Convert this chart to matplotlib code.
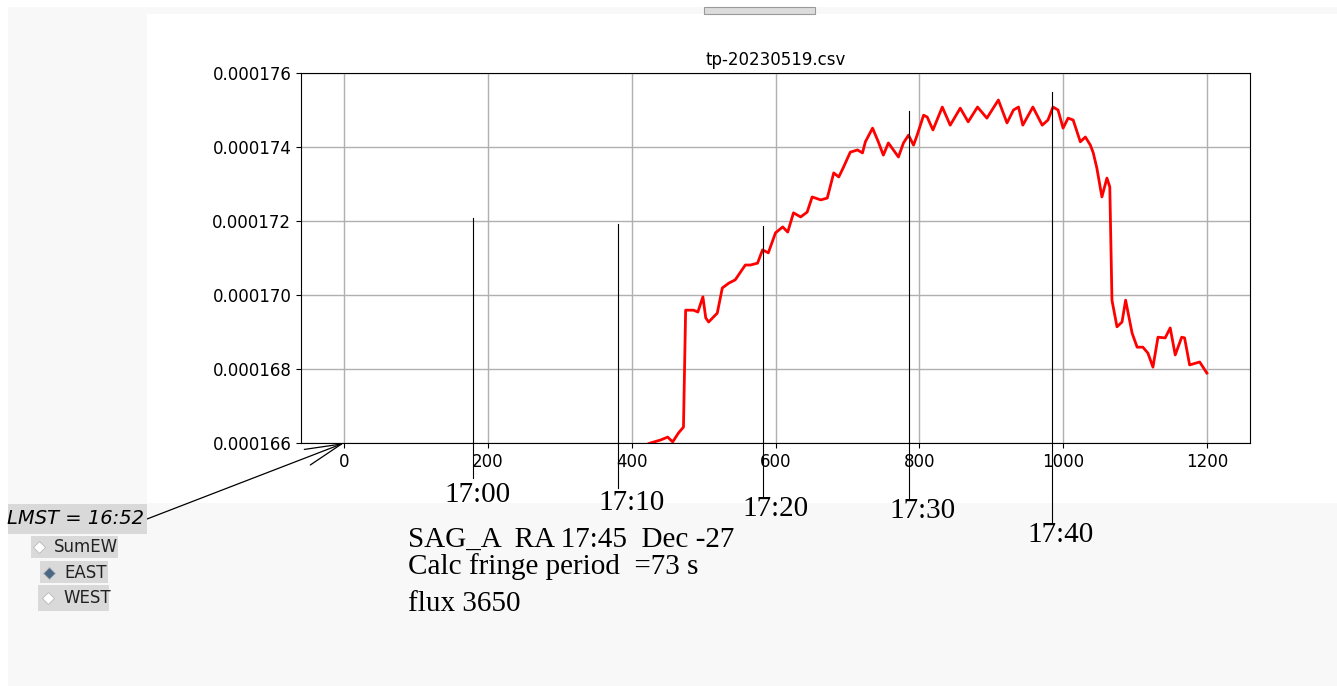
import matplotlib
matplotlib.use("Agg")
import matplotlib.pyplot as plt
import numpy as np
from matplotlib.patches import Rectangle
from matplotlib.lines import Line2D
from matplotlib.ticker import FormatStrFormatter

W, H = 1337, 686

# sample index vs total power (in units of 1e-6)
samples = [0, 200, 400, 426, 440, 450, 457, 465, 472, 475, 486, 492, 499, 503, 507,
           519, 526, 535, 544, 558, 565, 575, 582, 590, 600, 610, 617, 625, 635, 644,
           651, 663, 672, 681, 688, 694, 704, 714, 721, 725, 735, 743, 750, 757, 764,
           771, 778, 785, 792, 797, 806, 811, 819, 832, 843, 857, 868, 881, 894, 910,
           922, 931, 938, 944, 958, 971, 979, 986, 993, 1000, 1007, 1014, 1024, 1031,
           1038, 1042, 1047, 1054, 1061, 1065, 1068, 1075, 1082, 1087, 1096, 1103,
           1111, 1118, 1125, 1132, 1142, 1149, 1156, 1165, 1169, 1176, 1190, 1200]
power_u = [165.2, 165.4, 165.8, 166.00, 166.08, 166.16, 166.03, 166.27, 166.43, 169.59,
           169.59, 169.54, 169.95, 169.38, 169.27, 169.51, 170.19, 170.32, 170.41,
           170.81, 170.81, 170.86, 171.22, 171.14, 171.68, 171.84, 171.70, 172.22,
           172.11, 172.24, 172.65, 172.57, 172.62, 173.30, 173.19, 173.43, 173.86,
           173.92, 173.84, 174.14, 174.51, 174.14, 173.78, 174.11, 173.92, 173.73,
           174.11, 174.32, 174.05, 174.32, 174.86, 174.81, 174.46, 175.08, 174.59,
           175.05, 174.68, 175.08, 174.78, 175.27, 174.65, 175.00, 175.08, 174.59,
           175.08, 174.59, 174.73, 175.08, 175.00, 174.51, 174.78, 174.73, 174.14,
           174.27, 174.05, 173.84, 173.43, 172.65, 173.16, 172.92, 169.86, 169.14,
           169.27, 169.86, 168.97, 168.59, 168.59, 168.43, 168.05, 168.86, 168.84,
           169.11, 168.38, 168.86, 168.84, 168.11, 168.19, 167.89]
power = np.array(power_u) * 1e-6

# LMST markers drawn over the plot
mark_labels = ['17:00', '17:10', '17:20', '17:30', '17:40']
mark_x = [179, 381, 582, 785, 985]
mark_top = [172.08e-6, 171.92e-6, 171.86e-6, 174.97e-6, 175.49e-6]
mark_bottom = [165.05e-6, 164.78e-6, 164.54e-6, 164.46e-6, 163.86e-6]
label_x = [186, 400, 600, 804, 996]
label_y = [164.60e-6, 164.38e-6, 164.22e-6, 164.16e-6, 163.51e-6]

info_lines = ['SAG_A  RA 17:45  Dec -27', 'Calc fringe period  =73 s', 'flux 3650']
radio_labels = ['SumEW', 'EAST', 'WEST']


def fx(px):
    return px / W


def fy(py):
    return 1 - py / H


fig = plt.figure(figsize=(W / 100, H / 100), dpi=100, facecolor='white')

# window background pieces
fig.patches.append(Rectangle((fx(8), 0), fx(W - 8), 1 - 7 / H, transform=fig.transFigure,
                             facecolor='#f8f8f8', edgecolor='none', zorder=-3))
fig.patches.append(Rectangle((fx(147), fy(503)), fx(W - 147), (503 - 14) / H,
                             transform=fig.transFigure, facecolor='white',
                             edgecolor='none', zorder=-2))
fig.patches.append(Rectangle((fx(704), fy(14)), fx(111), 7 / H, transform=fig.transFigure,
                             facecolor='#dcdcdc', edgecolor='#9a9a9a', lw=0.8, zorder=-1))

ax = fig.add_axes([fx(301), fy(443), fx(1250 - 301), (443 - 73) / H])
ax.plot(samples, power, color='red', lw=2.0)
ax.set_xlim(-60, 1260)
ax.set_ylim(0.000166, 0.000176)
ax.set_xticks(range(0, 1201, 200))
ax.set_yticks(np.arange(166, 177, 2) * 1e-6)
ax.yaxis.set_major_formatter(FormatStrFormatter('%.6f'))
ax.tick_params(labelsize=12)
ax.grid(True, color='#b0b0b0', lw=1.0)
ax.set_title('tp-20230519.csv', fontsize=12)

for lab, x, yt, yb, lx, ly in zip(mark_labels, mark_x, mark_top, mark_bottom, label_x, label_y):
    ax.plot([x, x], [yb, yt], color='black', lw=0.8, clip_on=False, zorder=5)
    ax.text(lx, ly, lab, ha='center', va='center', fontsize=21,
            family='Liberation Serif', clip_on=False)

# info text below
for txt, py in zip(info_lines, [540, 567, 604]):
    fig.text(fx(408), fy(py), txt, ha='left', va='center', fontsize=21,
             family='Liberation Serif')

# LMST label with arrow to origin
fig.patches.append(Rectangle((fx(8), fy(534)), fx(139), 30 / H, transform=fig.transFigure,
                             facecolor='#d9d9d9', edgecolor='none'))
fig.text(fx(7), fy(519), 'LMST = 16:52', ha='left', va='center', fontsize=14,
         style='italic', family='DejaVu Sans')
ax.annotate('', xy=(0, 0.000166), xycoords='data',
            xytext=(fx(147), fy(519)), textcoords='figure fraction',
            arrowprops=dict(arrowstyle='->, head_length=2.2, head_width=0.5',
                            mutation_scale=12, lw=0.9, color='black',
                            shrinkA=0, shrinkB=0),
            annotation_clip=False)

# radio buttons
boxes = [(31, 536, 87, 22), (40, 561, 68, 22), (38, 585, 71, 26)]
dots = [(39, 547), (49, 573), (48, 598)]
text_x = [54, 64, 63]
fills = ['white', '#4a6785', 'white']
for lab, (bx, by, bw, bh), (dx, dy), tx, fc in zip(radio_labels, boxes, dots, text_x, fills):
    fig.patches.append(Rectangle((fx(bx), fy(by + bh)), fx(bw), bh / H,
                                 transform=fig.transFigure, facecolor='#d9d9d9',
                                 edgecolor='none'))
    fig.add_artist(Line2D([fx(dx)], [fy(dy)], marker='D', markersize=6.5,
                          markerfacecolor=fc, markeredgecolor='#b8b8b8',
                          markeredgewidth=0.6, transform=fig.transFigure))
    fig.text(fx(tx), fy(dy), lab, ha='left', va='center', fontsize=12,
             family='DejaVu Sans', color='#222222')

fig.savefig('out.png', dpi=100, facecolor=fig.get_facecolor())
